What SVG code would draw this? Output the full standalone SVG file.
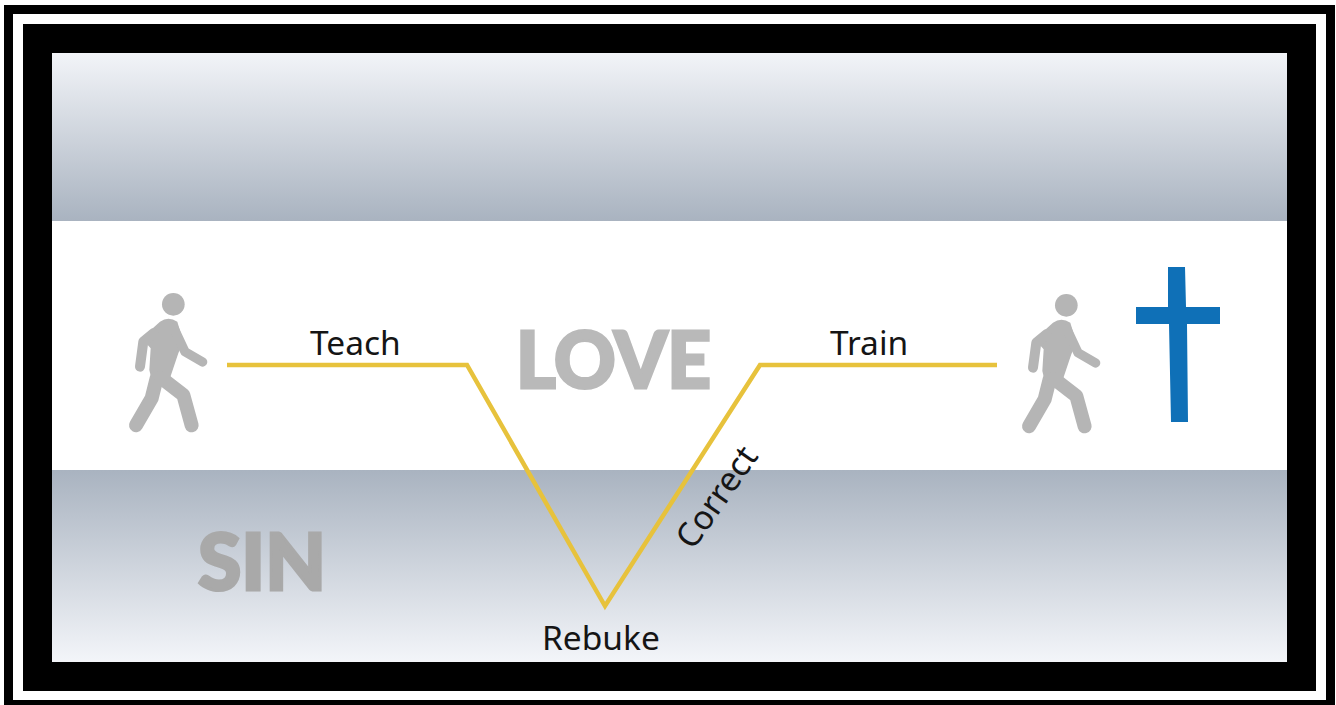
<svg xmlns="http://www.w3.org/2000/svg" width="1336" height="705" viewBox="0 0 1336 705">
<style>
.lbl{font-family:"Noto Sans","Open Sans","Liberation Sans",sans-serif;font-size:33.5px;fill:#151515}
.big{font-family:Lato,"Open Sans","Liberation Sans",sans-serif;font-weight:900;font-size:78px;stroke-width:3;stroke-linejoin:miter}
.limb{fill:none;stroke:#b5b5b5;stroke-linecap:round;stroke-linejoin:round}
</style>
<defs>
<linearGradient id="gTop" x1="0" y1="0" x2="0" y2="1"><stop offset="0" stop-color="#f2f4f8"/><stop offset="1" stop-color="#a9b3c0"/></linearGradient>
<linearGradient id="gBot" x1="0" y1="0" x2="0" y2="1"><stop offset="0" stop-color="#a9b3c0"/><stop offset="1" stop-color="#f3f5f9"/></linearGradient>
<g id="walkerShape">
<circle cx="220" cy="103" r="34" fill="#b5b5b5"/>
<path fill="#b5b5b5" d="M125 205L180 155Q205 138 232 155L250 215L235 250L208 330L160 350L148 300L152 235Z"/>
<path class="limb" stroke-width="30" d="M160 190L130 215L120 290"/>
<path class="limb" stroke-width="28" d="M222 175L255 245L308 276"/>
<path class="limb" stroke-width="42" d="M170 325L155 385L108 466"/>
<path class="limb" stroke-width="42" d="M185 325L250 375L275 466"/>
</g>
</defs>
<rect width="1336" height="705" fill="#fff"/>
<rect x="4" y="5" width="1331" height="700" fill="#000"/>
<rect x="13" y="14" width="1313" height="686" fill="#fff"/>
<rect x="23" y="24" width="1293" height="667" fill="#000"/>
<rect x="52" y="53" width="1235" height="168" fill="url(#gTop)"/>
<rect x="52" y="221" width="1235" height="249" fill="#fff"/>
<rect x="52" y="470" width="1235" height="192" fill="url(#gBot)"/>
<g id="connectors">
<path d="M227 365H467L605 606L760 365H997" fill="none" stroke="#e7c23c" stroke-width="4.5"/>
</g>
<g id="walker-left"><use href="#walkerShape" transform="translate(100 270) scale(.3333)"/></g>
<g id="walker-right"><use href="#walkerShape" transform="translate(993 271) scale(.3333)"/></g>
<g id="cross"><path d="M1168 267H1185L1186 307H1220V324H1187L1188 422H1171L1169 324H1136V307H1168Z" fill="#0f70b7"/></g>
<g id="love"><text class="big" x="516" y="388" fill="#b9b9b9" stroke="#b9b9b9" textLength="195" lengthAdjust="spacingAndGlyphs">LOVE</text></g>
<g id="sin"><text class="big" x="198" y="590" fill="#a9a9a9" stroke="#a9a9a9" textLength="128" lengthAdjust="spacingAndGlyphs">SIN</text></g>
<g id="teach"><text class="lbl" x="310" y="355">Teach</text></g>
<g id="train"><text class="lbl" x="830" y="355">Train</text></g>
<g id="rebuke"><text class="lbl" x="542" y="650">Rebuke</text></g>
<g id="correct"><text class="lbl" transform="translate(693 551) rotate(-55)">Correct</text></g>
</svg>
